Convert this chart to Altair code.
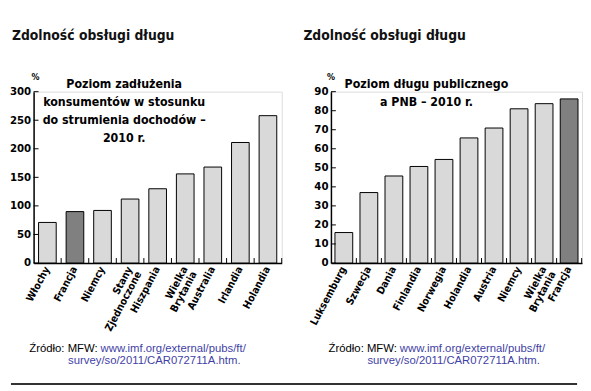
import altair as alt
import pandas as pd

# ---- data ----
left_countries = ["Włochy", "Francja", "Niemcy", "Stany|Zjednoczone", "Hiszpania",
                  "Wielka|Brytania", "Australia", "Irlandia", "Holandia"]
left_values = [71, 90, 92, 112, 130, 156, 168, 211, 258]
left_ticks = [0, 50, 100, 150, 200, 250, 300]
left_note = ["Poziom zadłużenia", "konsumentów w stosunku", "do strumienia dochodów –", "2010 r."]

right_countries = ["Luksemburg", "Szwecja", "Dania", "Finlandia", "Norwegia", "Holandia",
                   "Austria", "Niemcy", "Wielka|Brytania", "Francja"]
right_values = [16, 37, 45.7, 50.7, 54.4, 65.7, 70.9, 81, 83.7, 86.2]
right_ticks = [0, 10, 20, 30, 40, 50, 60, 70, 80, 90]
right_note = ["Poziom długu publicznego", "a PNB – 2010 r."]

highlight = "Francja"
title_text = "Zdolność obsługi długu"
source_black = "Źródło: MFW:"
source_blue1 = "www.imf.org/external/pubs/ft/"
source_blue2 = "survey/so/2011/CAR072711A.htm."

NARROW = '"Liberation Sans Narrow", "DejaVu Sans Condensed", "Roboto", sans-serif'
REG = '"Liberation Sans", "Noto Sans", sans-serif'
H = 174


def panel(countries, values, ticks, ymax, width, pi, po, title_x, note, note_x, pct_x,
          src_dx, rule=None):
    df = pd.DataFrame({"kraj": countries, "wartosc": values,
                       "wyr": [c == highlight for c in countries]})
    xscale = alt.Scale(paddingInner=pi, paddingOuter=po)
    yscale = alt.Scale(domain=[0, ymax], nice=False)
    xaxis = alt.Axis(title=None, labelAngle=298, labelAlign="right",
                     labelBaseline="middle", labelExpr="split(datum.label, '|')",
                     ticks=False, domainColor="black", domainWidth=1.5,
                     labelFont=NARROW, labelFontWeight="bold", labelFontSize=10.5,
                     labelColor="black", labelPadding=4, labelLineHeight=10.5)
    yaxis = alt.Axis(title=None, values=ticks, ticks=False, grid=False,
                     domainColor="black", domainWidth=1.5, labelFont=NARROW,
                     labelFontWeight="bold", labelFontSize=11.5, labelColor="black",
                     labelPadding=3)
    bars = alt.Chart(df).mark_bar(stroke="black", strokeWidth=1).encode(
        x=alt.X("kraj:N", sort=None, scale=xscale, axis=xaxis),
        y=alt.Y("wartosc:Q", scale=yscale, axis=yaxis),
        color=alt.Color("wyr:N", scale=alt.Scale(domain=[False, True],
                                                 range=["#d9d9d9", "#808080"]),
                        legend=None))
    step = width / (len(countries) - pi + 2 * po)
    gap = step * pi / 2
    xticks = alt.Chart(df).mark_rule(color="black", strokeWidth=1, xOffset=gap).encode(
        x=alt.X("kraj:N", sort=None, scale=xscale, bandPosition=1, axis=xaxis),
        y=alt.value(H), y2=alt.value(H - 5))
    ydf = pd.DataFrame({"t": ticks})
    yticks = alt.Chart(ydf).mark_rule(color="black", strokeWidth=1).encode(
        y=alt.Y("t:Q", scale=yscale, axis=yaxis), x=alt.value(0), x2=alt.value(5))
    one = pd.DataFrame({"a": [0]})
    title = alt.Chart(one).mark_text(text=title_text, font=NARROW, fontWeight="bold",
                                     fontSize=14, align="left", baseline="middle",
                                     color="#111").encode(
        x=alt.value(title_x), y=alt.value(-56))
    pct = alt.Chart(one).mark_text(text="%", font=NARROW, fontWeight="bold", fontSize=9,
                                   align="center", baseline="middle", color="black").encode(
        x=alt.value(pct_x), y=alt.value(-15))
    ann = alt.Chart(one).mark_text(text=note, font=NARROW, fontWeight="bold", fontSize=12.5,
                                   lineHeight=18.5, align="center", baseline="top",
                                   color="black").encode(
        x=alt.value(note_x), y=alt.value(-14))
    s1 = alt.Chart(one).mark_text(text=source_black, font=REG, fontSize=11.5, align="right",
                                  baseline="middle", color="black").encode(
        x=alt.value(67 + src_dx), y=alt.value(261.5))
    s2 = alt.Chart(one).mark_text(text=source_blue1, font=REG, fontSize=11.5, align="left",
                                  baseline="middle", color="#3f3fa5").encode(
        x=alt.value(70 + src_dx), y=alt.value(261.5))
    s3 = alt.Chart(one).mark_text(text=source_blue2, font=REG, fontSize=11.5, align="left",
                                  baseline="middle", color="#3f3fa5").encode(
        x=alt.value(37 + src_dx), y=alt.value(274))
    layers = [bars, xticks, yticks, title, pct, ann, s1, s2, s3]
    if rule is not None:
        layers.append(alt.Chart(one).mark_rule(color="#333", strokeWidth=2).encode(
            x=alt.value(rule[0]), x2=alt.value(rule[1]), y=alt.value(297)))
    return alt.layer(*layers).properties(width=width, height=H)


left = panel(left_countries, left_values, left_ticks, 300, 252, 0.36, 0.18, -22,
             left_note, 92, 2, -2)
right = panel(right_countries, right_values, right_ticks, 90, 255, 0.29, 0.16, -28,
              right_note, 97, 0, 0, rule=(-325, 250))

chart = alt.hconcat(left, right, spacing=50, bounds="flush").properties(
    padding={"left": 0, "top": 18, "right": 0, "bottom": 0}
).configure_view(stroke=None).configure(background="white")

chart.save("out.html", embed_options={"renderer": "svg", "actions": False})
